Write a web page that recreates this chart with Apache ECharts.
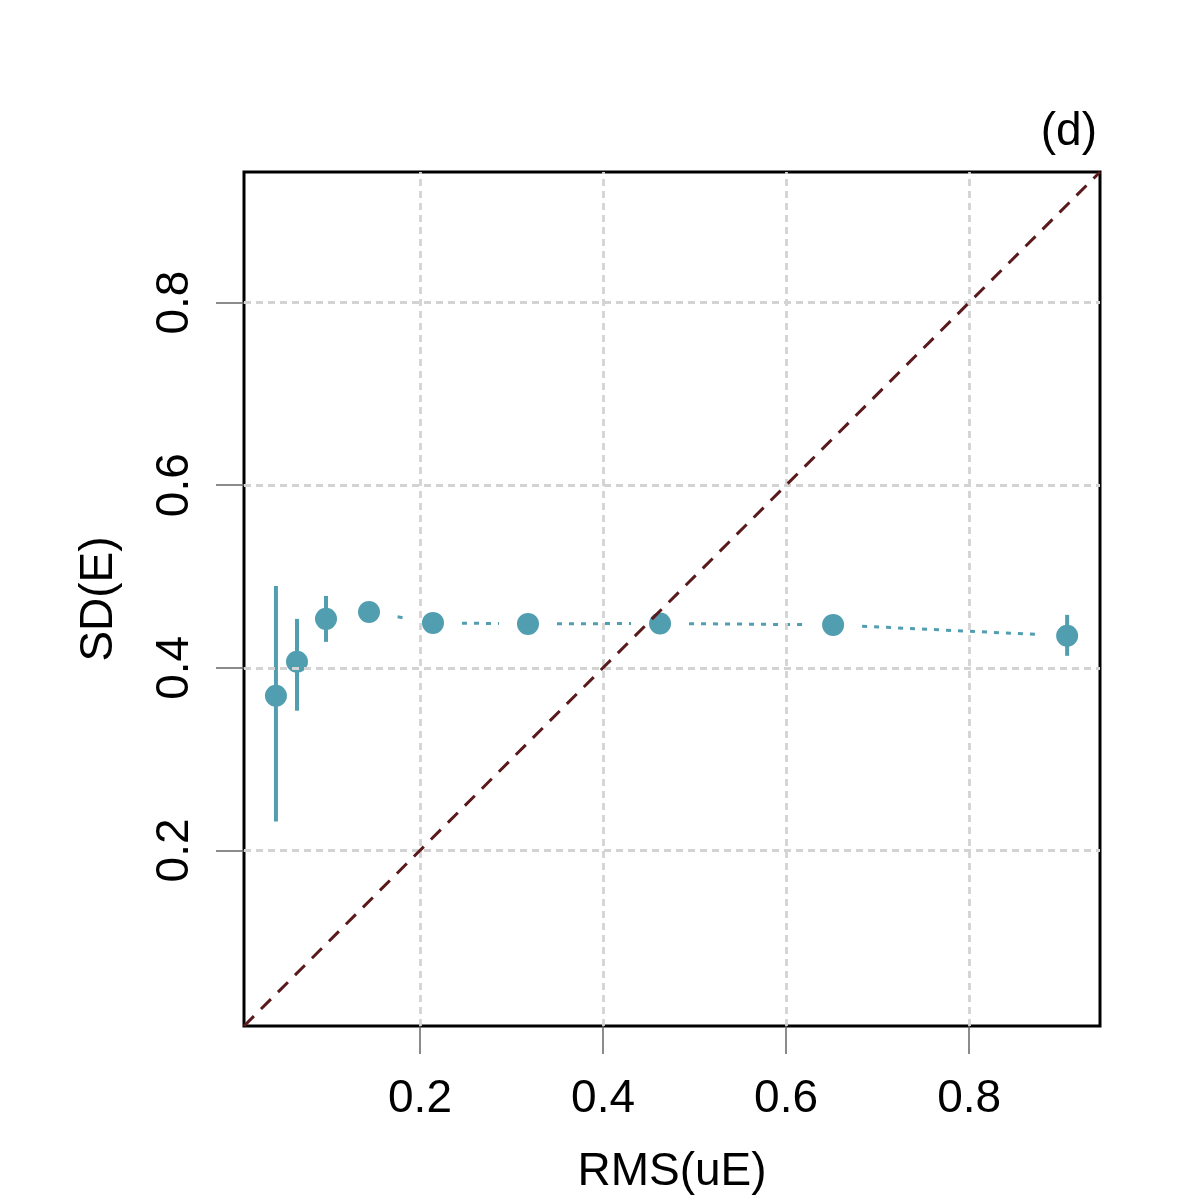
<!DOCTYPE html>
<html>
<head>
<meta charset="utf-8">
<script src="https://cdn.jsdelivr.net/npm/echarts@6/dist/echarts.min.js"></script>
<style>
html, body { margin: 0; padding: 0; background: #fff; }
#chart { width: 1200px; height: 1200px; }
</style>
</head>
<body>
<div id="chart"></div>
<script>
// values
const rms = [0.0426, 0.0656, 0.0973, 0.1443, 0.2142, 0.318, 0.4623, 0.6514, 0.9071];
const sd = [0.3694, 0.4066, 0.4536, 0.4612, 0.4492, 0.4481, 0.4486, 0.447, 0.435];
const sdLow = [0.2317, 0.353, 0.4284, 0.455, 0.445, 0.444, 0.444, 0.443, 0.4131];
const sdHigh = [0.4896, 0.4536, 0.4787, 0.467, 0.453, 0.452, 0.453, 0.451, 0.458];
const tickValues = [0.2, 0.4, 0.6, 0.8];
const axisRange = [0.0077, 0.943];

const pointColor = '#529EB1';
const font = 'Liberation Sans, Arial, sans-serif';

let chartDom = document.getElementById('chart');
let myChart = echarts.init(chartDom);

const points = rms.map((x, i) => [x, sd[i]]);
const bars = rms.map((x, i) => [x, sdLow[i], sdHigh[i]]);
const segments = [];
for (let i = 0; i < rms.length - 1; i++) {
    segments.push([rms[i], sd[i], rms[i + 1], sd[i + 1]]);
}

// R type="b": leave a gap around each point
const gap = 29;

function axisCommon(name, gapName, labelMargin, rotate) {
    return {
        type: 'value',
        min: axisRange[0],
        max: axisRange[1],
        name: name,
        nameLocation: 'middle',
        nameGap: gapName,
        nameRotate: rotate ? 90 : 0,
        nameTextStyle: { fontSize: 46, color: '#000', fontFamily: font },
        axisLine: { show: false },
        axisTick: {
            show: true,
            length: 28,
            customValues: tickValues,
            lineStyle: { color: '#666', width: 1.5 }
        },
        axisLabel: {
            customValues: tickValues,
            formatter: v => v.toFixed(1),
            fontSize: 46,
            color: '#000',
            fontFamily: font,
            margin: labelMargin,
            rotate: rotate ? 90 : 0
        },
        splitLine: { show: false }
    };
}

let option = {
    animation: false,
    backgroundColor: '#fff',
    title: {
        text: '(d)',
        right: 98,
        top: 104,
        textStyle: { fontSize: 46, fontWeight: 'normal', color: '#000', fontFamily: font }
    },
    grid: {
        left: 244,
        top: 172,
        width: 856,
        height: 854,
        show: true,
        borderColor: '#000',
        borderWidth: 3,
        backgroundColor: 'transparent'
    },
    xAxis: axisCommon('RMS(uE)', 123, 50, false),
    yAxis: axisCommon('SD(E)', 122, 46, true),
    series: [
        {
            // grid lines
            type: 'line',
            data: [],
            z: 1,
            silent: true,
            markLine: {
                silent: true,
                symbol: 'none',
                label: { show: false },
                lineStyle: { color: '#D3D3D3', type: [7, 5], width: 2.8 },
                data: tickValues.map(v => ({ xAxis: v }))
                    .concat(tickValues.map(v => ({ yAxis: v })))
            }
        },
        {
            // dotted connecting line
            type: 'custom',
            z: 2,
            silent: true,
            data: segments,
            encode: { x: [0, 2], y: [1, 3] },
            renderItem: function (params, api) {
                const a = api.coord([api.value(0), api.value(1)]);
                const b = api.coord([api.value(2), api.value(3)]);
                const dx = b[0] - a[0], dy = b[1] - a[1];
                const len = Math.sqrt(dx * dx + dy * dy);
                if (len <= 2 * gap) return null;
                const ux = dx / len, uy = dy / len;
                return {
                    type: 'line',
                    shape: {
                        x1: a[0] + ux * gap, y1: a[1] + uy * gap,
                        x2: b[0] - ux * gap, y2: b[1] - uy * gap
                    },
                    style: { stroke: pointColor, lineWidth: 3, lineDash: [5, 7] }
                };
            }
        },
        {
            // error bars
            type: 'custom',
            z: 3,
            silent: true,
            data: bars,
            encode: { x: 0, y: [1, 2] },
            renderItem: function (params, api) {
                const lo = api.coord([api.value(0), api.value(1)]);
                const hi = api.coord([api.value(0), api.value(2)]);
                return {
                    type: 'line',
                    shape: { x1: lo[0], y1: lo[1], x2: hi[0], y2: hi[1] },
                    style: { stroke: pointColor, lineWidth: 4 }
                };
            }
        },
        {
            type: 'scatter',
            z: 4,
            data: points,
            symbol: 'circle',
            symbolSize: 22,
            itemStyle: { color: pointColor, opacity: 1 }
        },
        {
            // identity line
            type: 'line',
            z: 5,
            data: [[axisRange[0], axisRange[0]], [axisRange[1], axisRange[1]]],
            symbol: 'none',
            lineStyle: { color: '#5A1A1C', width: 3, type: [14, 10] }
        }
    ]
};

option && myChart.setOption(option);
</script>
</body>
</html>
